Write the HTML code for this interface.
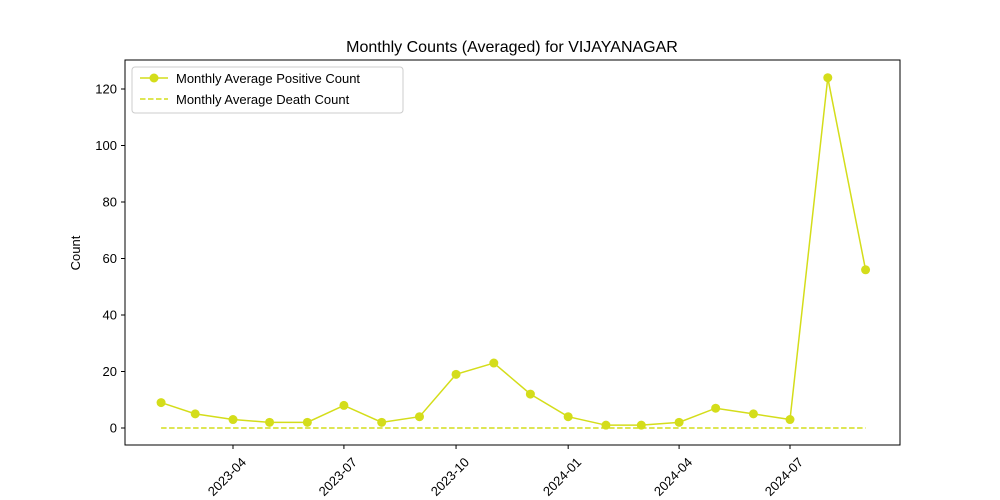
<!DOCTYPE html>
<html><head><meta charset="utf-8"><style>body{margin:0;background:#fff}svg{display:block;font-family:"Liberation Sans","DejaVu Sans",sans-serif}</style></head>
<body>
<svg id="chart" width="1000" height="500">
<rect width="1000" height="500" fill="#fff"/>
<text x="512" y="52" text-anchor="middle" font-size="16">Monthly Counts (Averaged) for VIJAYANAGAR</text>
<text transform="translate(80,253) rotate(-90)" text-anchor="middle" font-size="13">Count</text>
<g id="yticks"></g><g id="xticks"></g><g id="series"></g>
<rect x="125" y="60" width="775" height="385" fill="none" stroke="#000" stroke-width="1"/>
<g>
<rect x="132" y="67" width="271" height="46" rx="3" fill="#fff" stroke="#ccc"/>
<g><line x1="140" y1="78" x2="168" y2="78" stroke="#d4dd1a" stroke-width="1.5"/><circle cx="154" cy="78" r="4.5" fill="#d4dd1a"/><text x="176" y="83" font-size="13">Monthly Average Positive Count</text></g>
<g><line x1="140" y1="99" x2="168" y2="99" stroke="#d4dd1a" stroke-width="1.5" stroke-dasharray="5.5,2.5"/><text x="176" y="104" font-size="13">Monthly Average Death Count</text></g>
</g>
</svg>
<script>
const months=["2023-02","2023-03","2023-04","2023-05","2023-06","2023-07","2023-08","2023-09","2023-10","2023-11","2023-12","2024-01","2024-02","2024-03","2024-04","2024-05","2024-06","2024-07","2024-08","2024-09"];
const positive=[9,5,3,2,2,8,2,4,19,23,12,4,1,1,2,7,5,3,124,56];
const deaths=[0,0,0,0,0,0,0,0,0,0,0,0,0,0,0,0,0,0,0,0];
const yTicks=[0,20,40,60,80,100,120];
const xTicks=["2023-04","2023-07","2023-10","2024-01","2024-04","2024-07"];
const NS="http://www.w3.org/2000/svg";
const t0=Date.UTC(2023,3,1),t1=Date.UTC(2024,6,1);
function d(m){const[a,b]=m.split("-").map(Number);return Date.UTC(a,b-1,1);}
function X(m){return 233+(d(m)-t0)/(t1-t0)*557;}
function Y(v){return 428-v*2.825;}
function mk(tag,attrs,parent){const e=document.createElementNS(NS,tag);for(const k in attrs)e.setAttribute(k,attrs[k]);parent.appendChild(e);return e;}
const yg=document.getElementById("yticks"),xg=document.getElementById("xticks"),sg=document.getElementById("series");
yTicks.forEach(v=>{const y=Y(v);
const l=mk("line",{x1:121,x2:125,y1:y,y2:y,stroke:"#000"},yg);


const t=mk("text",{x:117,y:y+4.5,"text-anchor":"end","font-size":13},yg);t.textContent=v;

});
xTicks.forEach(m=>{const x=X(m);
const l=mk("line",{x1:x,x2:x,y1:445,y2:449,stroke:"#000"},xg);


const t=mk("text",{transform:`translate(${x+14},${463}) rotate(-45)`,"text-anchor":"end","font-size":13},xg);t.textContent=m;

});
const dl=mk("polyline",{points:months.map((m,i)=>X(m)+","+Y(deaths[i])).join(" "),fill:"none",stroke:"#d4dd1a","stroke-width":1.5,"stroke-dasharray":"5.5,2.5"},sg);


const pl=mk("polyline",{points:months.map((m,i)=>X(m)+","+Y(positive[i])).join(" "),fill:"none",stroke:"#d4dd1a","stroke-width":1.5},sg);


months.forEach((m,i)=>{const c=mk("circle",{cx:X(m),cy:Y(positive[i]),r:4.5,fill:"#d4dd1a"},sg);

});
</script>
</body></html>
